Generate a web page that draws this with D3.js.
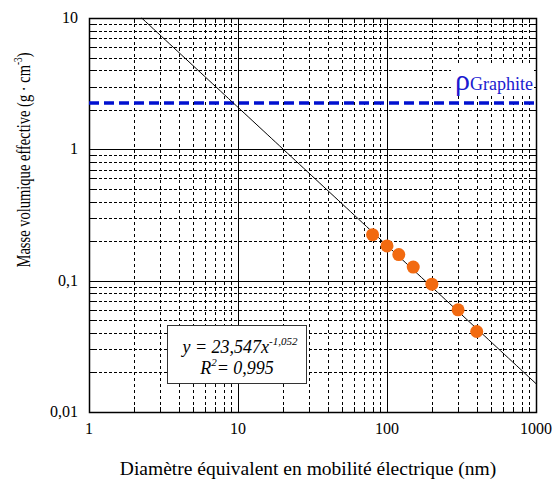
<!DOCTYPE html>
<html>
<head>
<meta charset="utf-8">
<script src="https://cdn.jsdelivr.net/npm/d3@7"></script>
<style>
  body { margin: 0; background: white; }
  svg text { font-family: "Liberation Serif", serif; }
</style>
</head>
<body>
<div id="canvas"></div>
<script>
//    data
var diametres = [80, 100, 120, 150, 200, 300, 400];
var densites = [0.224, 0.184, 0.158, 0.127, 0.094, 0.060, 0.041];
var xTicks = [1, 10, 100, 1000];
var yTicks = [0.01, 0.1, 1, 10];
var yTickLabels = ['0,01', '0,1', '1', '10'];
var fitA = 23.547;
var fitB = -1.052;
var rhoGraphite = 2.25;

//    defination
var width = 553, height = 481;
var pLeft = 89, pRight = 536, pTop = 18, pBottom = 412;
var tickLen = 5;

var x = d3.scaleLog().domain([1, 1000]).range([pLeft, pRight]);
var y = d3.scaleLog().domain([0.01, 10]).range([pBottom, pTop]);

var svg = d3.select('#canvas')
    .append('svg')
    .attr('width', width)
    .attr('height', height)
    .attr('font-family', 'Liberation Serif');

//    minor grid
var minorX = [], minorY = [];
[1, 10, 100].forEach(function(d){
    for (var k = 2; k <= 9; k++) minorX.push(d * k);
});
[0.01, 0.1, 1].forEach(function(d){
    for (var k = 2; k <= 9; k++) minorY.push(d * k);
});

svg.selectAll('.minorx')
    .data(minorX)
    .enter()
    .append('line')
    .attr('x1', d => Math.round(x(d)) + 0.5)
    .attr('x2', d => Math.round(x(d)) + 0.5)
    .attr('y1', pTop)
    .attr('y2', pBottom)
    .attr('stroke', 'black')
    .attr('stroke-width', 1)
    .attr('stroke-dasharray', '3,3');

svg.selectAll('.minory')
    .data(minorY)
    .enter()
    .append('line')
    .attr('x1', pLeft)
    .attr('x2', pRight)
    .attr('y1', d => Math.round(y(d)) + 0.5)
    .attr('y2', d => Math.round(y(d)) + 0.5)
    .attr('stroke', 'black')
    .attr('stroke-width', 1)
    .attr('stroke-dasharray', '3,2');

//    minor ticks (inward, all sides)
minorX.forEach(function(d){
    var xx = Math.round(x(d)) + 0.5;
    svg.append('line').attr('x1', xx).attr('x2', xx)
        .attr('y1', pBottom).attr('y2', pBottom - tickLen).attr('stroke', 'black');
    svg.append('line').attr('x1', xx).attr('x2', xx)
        .attr('y1', pTop).attr('y2', pTop + tickLen).attr('stroke', 'black');
});
minorY.forEach(function(d){
    var yy = Math.round(y(d)) + 0.5;
    svg.append('line').attr('x1', pLeft).attr('x2', pLeft + tickLen)
        .attr('y1', yy).attr('y2', yy).attr('stroke', 'black');
    svg.append('line').attr('x1', pRight).attr('x2', pRight - tickLen)
        .attr('y1', yy).attr('y2', yy).attr('stroke', 'black');
});

//    major grid
svg.selectAll('.majorx')
    .data(xTicks)
    .enter()
    .append('line')
    .attr('x1', d => Math.round(x(d)) + 0.5)
    .attr('x2', d => Math.round(x(d)) + 0.5)
    .attr('y1', pTop)
    .attr('y2', pBottom)
    .attr('stroke', 'black');

svg.selectAll('.majory')
    .data(yTicks)
    .enter()
    .append('line')
    .attr('x1', pLeft)
    .attr('x2', pRight)
    .attr('y1', d => Math.round(y(d)) + 0.5)
    .attr('y2', d => Math.round(y(d)) + 0.5)
    .attr('stroke', 'black');

//    border
svg.append('rect')
    .attr('x', pLeft + 0.5)
    .attr('y', pTop + 0.5)
    .attr('width', pRight - pLeft)
    .attr('height', pBottom - pTop)
    .attr('fill', 'none')
    .attr('stroke', 'black')
    .attr('stroke-width', 1.5);

//    graphite line
svg.append('line')
    .attr('x1', pLeft)
    .attr('x2', pRight)
    .attr('y1', y(rhoGraphite))
    .attr('y2', y(rhoGraphite))
    .attr('stroke', '#0010d0')
    .attr('stroke-width', 3.5)
    .attr('stroke-dasharray', '10,5');

svg.append('rect')
    .attr('x', 451)
    .attr('y', 66)
    .attr('width', 83)
    .attr('height', 30)
    .attr('fill', 'white');

var lbl = svg.append('text')
    .attr('x', 533)
    .attr('y', 90)
    .attr('text-anchor', 'end')
    .attr('fill', '#1a1ad0');
lbl.append('tspan').attr('font-size', 30).text('ρ');
lbl.append('tspan').attr('font-size', 18).text('Graphite');

//    fit line
var xStart = Math.pow(10 / fitA, 1 / fitB);
var fitData = d3.range(0, 101).map(function(i){
    return xStart * Math.pow(1000 / xStart, i / 100);
});
svg.append('path')
    .datum(fitData)
    .attr('fill', 'none')
    .attr('stroke', 'black')
    .attr('stroke-width', 1)
    .attr('d', d3.line()
        .x(d => x(d))
        .y(d => y(fitA * Math.pow(d, fitB))));

//    points
svg.selectAll('.pt')
    .data(diametres)
    .enter()
    .append('circle')
    .attr('cx', d => x(d))
    .attr('cy', (d, i) => y(densites[i]))
    .attr('r', 6.5)
    .attr('fill', '#f26a10');

//    equation box
svg.append('rect')
    .attr('x', 167.5)
    .attr('y', 325.5)
    .attr('width', 139)
    .attr('height', 58)
    .attr('fill', 'white')
    .attr('stroke', '#333')
    .attr('stroke-width', 1);

var eq = svg.append('text')
    .attr('x', 240)
    .attr('y', 353)
    .attr('text-anchor', 'middle')
    .attr('font-size', 18)
    .attr('font-style', 'italic');
eq.append('tspan').text('y = 23,547x');
eq.append('tspan').attr('font-size', 11).attr('dy', -8).text('-1,052');

var r2 = svg.append('text')
    .attr('x', 237)
    .attr('y', 374)
    .attr('text-anchor', 'middle')
    .attr('font-size', 18)
    .attr('font-style', 'italic');
r2.append('tspan').text('R');
r2.append('tspan').attr('font-size', 11).attr('dy', -8).text('2');
r2.append('tspan').attr('dy', 8).text('= 0,995');

//    tick labels
svg.selectAll('.xl')
    .data(xTicks)
    .enter()
    .append('text')
    .attr('x', d => x(d))
    .attr('y', 434)
    .attr('text-anchor', 'middle')
    .attr('font-size', 16)
    .text(d => d);

svg.selectAll('.yl')
    .data(yTicks)
    .enter()
    .append('text')
    .attr('x', 78)
    .attr('y', d => y(d) + 5)
    .attr('text-anchor', 'end')
    .attr('font-size', 16)
    .text((d, i) => yTickLabels[i]);

//    axis titles
svg.append('text')
    .attr('x', 308)
    .attr('y', 475)
    .attr('text-anchor', 'middle')
    .attr('font-size', 19.5)
    .text('Diamètre équivalent en mobilité électrique (nm)');

var yt = svg.append('text')
    .attr('transform', 'translate(30,160) rotate(-90)')
    .attr('text-anchor', 'middle')
    .attr('font-size', 19)
    .attr('textLength', 215)
    .attr('lengthAdjust', 'spacingAndGlyphs');
yt.append('tspan').text('Masse volumique effective (g · cm');
yt.append('tspan').attr('font-size', 12).attr('dy', -8).text('-3');
yt.append('tspan').attr('dy', 8).text(')');
</script>
</body>
</html>
